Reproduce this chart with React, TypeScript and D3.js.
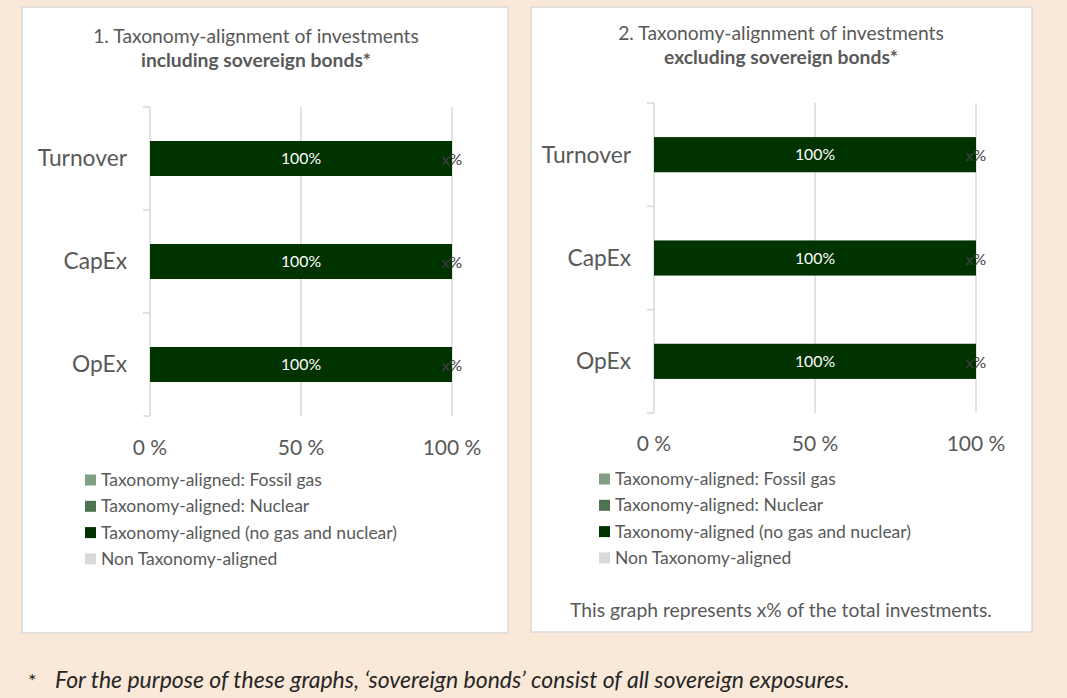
import React from "react";
import * as d3 from "d3";

const categories = ["Turnover", "CapEx", "OpEx"];
const seriesNames = [
  "Taxonomy-aligned: Fossil gas",
  "Taxonomy-aligned: Nuclear",
  "Taxonomy-aligned (no gas and nuclear)",
  "Non Taxonomy-aligned",
];
const seriesColors = ["#829F86", "#4D7350", "#013301", "#D9D9D9"];
const xTicks = [0, 50, 100];

// chart 1: including sovereign bonds
const inclFossilGas = [0, 0, 0];
const inclNuclear = [0, 0, 0];
const inclAligned = [100, 100, 100];
const inclNonAligned = [0, 0, 0];
const inclAlignedLabels = ["100%", "100%", "100%"];
const inclNonLabels = ["x%", "x%", "x%"];

// chart 2: excluding sovereign bonds
const exclFossilGas = [0, 0, 0];
const exclNuclear = [0, 0, 0];
const exclAligned = [100, 100, 100];
const exclNonAligned = [0, 0, 0];
const exclAlignedLabels = ["100%", "100%", "100%"];
const exclNonLabels = ["x%", "x%", "x%"];

const FONT = "Lato, 'Open Sans', sans-serif";
const TEXT = "#595959";
const GRID = "#D9D9D9";

type PanelProps = {
  box: [number, number, number, number];
  title1: string;
  title2: string;
  titleX: number;
  titleY: number;
  plot: { left: number; right: number; top: number; bottom: number };
  tickY: number;
  legendX: number;
  legendY: number;
  values: number[][];
  alignedLabels: string[];
  nonLabels: string[];
  note?: string;
};

const Panel = ({ box, title1, title2, titleX, titleY, plot, tickY, legendX, legendY, values, alignedLabels, nonLabels, note }: PanelProps) => {
  const x = d3.scaleLinear().domain([0, 100]).range([plot.left, plot.right]);
  const y = d3.scaleBand().domain(categories).range([plot.top, plot.bottom]).padding(0);

  const rows = categories.map((c, i) => {
    const row: any = { cat: c };
    seriesNames.forEach((s, k) => (row[s] = values[k][i]));
    return row;
  });
  const stacked = d3.stack().keys(seriesNames)(rows);
  const barH = y.bandwidth() * 0.34;

  // band boundaries get the small axis ticks
  const bounds = [...categories.map((c) => y(c)!), plot.bottom];

  return (
    <g>
      <rect x={box[0]} y={box[1]} width={box[2]} height={box[3]} fill="#fff" stroke="#D9D9D9" strokeWidth={1.5} />
      <text x={titleX} y={titleY} textAnchor="middle" fontSize={19.3} fill={TEXT}>{title1}</text>
      <text x={titleX} y={titleY + 24} textAnchor="middle" fontSize={19.3} fontWeight="bold" fill={TEXT}>{title2}</text>

      {xTicks.filter((t) => t > 0).map((t) => (
        <line key={t} x1={x(t)} x2={x(t)} y1={plot.top} y2={plot.bottom} stroke={GRID} strokeWidth={1.5} />
      ))}
      <line x1={plot.left} x2={plot.left} y1={plot.top} y2={plot.bottom} stroke={GRID} strokeWidth={1.5} />
      {bounds.map((b, i) => (
        <line key={i} x1={plot.left - 7} x2={plot.left} y1={b} y2={b} stroke={GRID} strokeWidth={1.5} />
      ))}

      {stacked.map((layer, k) => (
        <g key={k} fill={seriesColors[k]}>
          {layer.map((d, i) => (
            <rect key={i} x={x(d[0])} y={y(categories[i])! + (y.bandwidth() - barH) / 2} width={x(d[1]) - x(d[0])} height={barH} />
          ))}
        </g>
      ))}

      {categories.map((c, i) => {
        const cy = y(c)! + y.bandwidth() / 2;
        const al = stacked[2][i];
        const nl = stacked[3][i];
        return (
          <g key={c}>
            <text x={plot.left - 23} y={cy} dy="0.35em" textAnchor="end" fontSize={22.8} fill={TEXT}>{c}</text>
            <text x={x((al[0] + al[1]) / 2)} y={cy} dy="0.35em" textAnchor="middle" fontSize={15.8} fill="#fff">{alignedLabels[i]}</text>
            <text x={x((nl[0] + nl[1]) / 2)} y={cy + 1} dy="0.35em" textAnchor="middle" fontSize={15.8} fill="#404040">{nonLabels[i]}</text>
          </g>
        );
      })}

      {xTicks.map((t) => (
        <text key={t} x={x(t)} y={tickY} dy="0.35em" textAnchor="middle" fontSize={21} fill={TEXT}>{`${t} %`}</text>
      ))}

      {seriesNames.map((s, k) => (
        <g key={s} transform={`translate(${legendX},${legendY + k * 26.3})`}>
          <rect x={0} y={-5.5} width={11} height={11} fill={seriesColors[k]} />
          <text x={16} y={0} dy="0.35em" fontSize={17.5} fill={TEXT}>{s}</text>
        </g>
      ))}

      {note && (
        <text x={titleX} y={610} dy="0.35em" textAnchor="middle" fontSize={19.3} fill={TEXT}>{note}</text>
      )}
    </g>
  );
};

export default function App() {
  return (
    <svg width={1067} height={698} style={{ position: "absolute", left: 0, top: 0, fontFamily: FONT }}>
      <rect x={0} y={0} width={1067} height={698} fill="#FAE8D8" />
      <Panel
        box={[22, 7, 486, 626]}
        title1="1. Taxonomy-alignment of investments"
        title2="including sovereign bonds*"
        titleX={256}
        titleY={43}
        plot={{ left: 150, right: 452, top: 107, bottom: 416 }}
        tickY={448}
        legendX={85}
        legendY={480}
        values={[inclFossilGas, inclNuclear, inclAligned, inclNonAligned]}
        alignedLabels={inclAlignedLabels}
        nonLabels={inclNonLabels}
      />
      <Panel
        box={[531, 7, 501, 625]}
        title1="2. Taxonomy-alignment of investments"
        title2="excluding sovereign bonds*"
        titleX={781}
        titleY={40}
        plot={{ left: 654, right: 976, top: 103, bottom: 413 }}
        tickY={444}
        legendX={599}
        legendY={479}
        values={[exclFossilGas, exclNuclear, exclAligned, exclNonAligned]}
        alignedLabels={exclAlignedLabels}
        nonLabels={exclNonLabels}
        note="This graph represents x% of the total investments."
      />
      <text x={28} y={688} fontSize={20} fill="#262626">*</text>
      <text x={55} y={688} fontSize={23} fontStyle="italic" fill="#262626">
        For the purpose of these graphs, ‘sovereign bonds’ consist of all sovereign exposures.
      </text>
    </svg>
  );
}
